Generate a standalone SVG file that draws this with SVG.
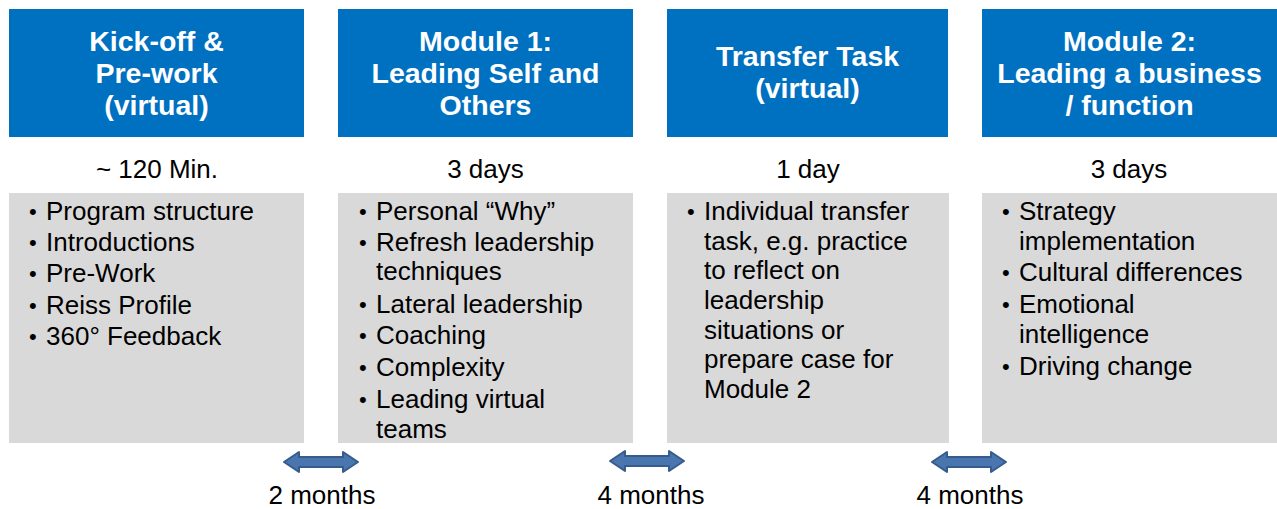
<svg xmlns="http://www.w3.org/2000/svg" width="1277" height="509" viewBox="0 0 1277 509">
<style>
.hdr{fill:#0070C0}
.box{fill:#D9D9D9}
.ht{font-family:"Liberation Sans",Arial,sans-serif;font-weight:bold;font-size:28.5px;fill:#FFFFFF;text-anchor:middle}
.st{font-family:"Liberation Sans",Arial,sans-serif;font-size:26px;fill:#000000;text-anchor:middle}
.bt{font-family:"Liberation Sans",Arial,sans-serif;font-size:26px;fill:#000000}
.bu{font-size:22px}
.arr{fill:#4A76B0;stroke:#365C8E;stroke-width:2;stroke-linejoin:round}
</style>
<defs>
<path id="dbl" d="M0,0 L15,-10 L15,-5 L59,-5 L59,-10 L74,0 L59,10 L59,5 L15,5 L15,10 Z"/>
</defs>
<rect width="1277" height="509" fill="#FFFFFF"/>

<g id="node-kickoff">
<rect class="hdr" x="9" y="9" width="295" height="128"/>
<text class="ht" x="156.5" y="51">Kick-off &amp;</text>
<text class="ht" x="156.5" y="83">Pre-work</text>
<text class="ht" x="156.5" y="115">(virtual)</text>
<text class="st" x="157" y="178">~ 120 Min.</text>
<rect class="box" x="9" y="193" width="295" height="250"/>
<g class="bt">
<text class="bu" x="29" y="219">•</text><text x="46" y="220">Program structure</text>
<text class="bu" x="29" y="250">•</text><text x="46" y="251">Introductions</text>
<text class="bu" x="29" y="281">•</text><text x="46" y="282">Pre-Work</text>
<text class="bu" x="29" y="313">•</text><text x="46" y="314">Reiss Profile</text>
<text class="bu" x="29" y="344">•</text><text x="46" y="345">360° Feedback</text>
</g>
</g>

<g id="node-module1">
<rect class="hdr" x="338" y="9" width="295" height="128"/>
<text class="ht" x="485.5" y="51">Module 1:</text>
<text class="ht" x="485.5" y="83">Leading Self and</text>
<text class="ht" x="485.5" y="115">Others</text>
<text class="st" x="485.5" y="178">3 days</text>
<rect class="box" x="338" y="193" width="295" height="250"/>
<g class="bt">
<text class="bu" x="359" y="219">•</text><text x="376" y="220">Personal “Why”</text>
<text class="bu" x="359" y="250">•</text><text x="376" y="251">Refresh leadership</text>
<text x="376" y="280">techniques</text>
<text class="bu" x="359" y="312">•</text><text x="376" y="313">Lateral leadership</text>
<text class="bu" x="359" y="343">•</text><text x="376" y="344">Coaching</text>
<text class="bu" x="359" y="375">•</text><text x="376" y="376">Complexity</text>
<text class="bu" x="359" y="407">•</text><text x="376" y="408">Leading virtual</text>
<text x="376" y="438">teams</text>
</g>
</g>

<g id="node-transfer">
<rect class="hdr" x="667" y="9" width="281" height="128"/>
<text class="ht" x="807.5" y="66">Transfer Task</text>
<text class="ht" x="807.5" y="98">(virtual)</text>
<text class="st" x="808" y="178">1 day</text>
<rect class="box" x="667" y="193" width="282" height="250"/>
<g class="bt">
<text class="bu" x="687" y="219">•</text><text x="704" y="220">Individual transfer</text>
<text x="704" y="250">task, e.g. practice</text>
<text x="704" y="279">to reflect on</text>
<text x="704" y="309">leadership</text>
<text x="704" y="339">situations or</text>
<text x="704" y="368">prepare case for</text>
<text x="704" y="398">Module 2</text>
</g>
</g>

<g id="node-module2">
<rect class="hdr" x="982" y="9" width="295" height="128"/>
<text class="ht" x="1129.5" y="51">Module 2:</text>
<text class="ht" x="1129.5" y="83">Leading a business</text>
<text class="ht" x="1129.5" y="115">/ function</text>
<text class="st" x="1129" y="178">3 days</text>
<rect class="box" x="982" y="193" width="295" height="250"/>
<g class="bt">
<text class="bu" x="1002" y="219">•</text><text x="1019" y="220">Strategy</text>
<text x="1019" y="250">implementation</text>
<text class="bu" x="1002" y="280">•</text><text x="1019" y="281">Cultural differences</text>
<text class="bu" x="1002" y="312">•</text><text x="1019" y="313">Emotional</text>
<text x="1019" y="343">intelligence</text>
<text class="bu" x="1002" y="374">•</text><text x="1019" y="375">Driving change</text>
</g>
</g>

<g id="connectors">
<use href="#dbl" class="arr" x="284" y="462"/>
<use href="#dbl" class="arr" x="610" y="461"/>
<use href="#dbl" class="arr" x="932" y="462"/>
<text class="st" x="322" y="504">2 months</text>
<text class="st" x="651" y="504">4 months</text>
<text class="st" x="970" y="504">4 months</text>
</g>
</svg>
